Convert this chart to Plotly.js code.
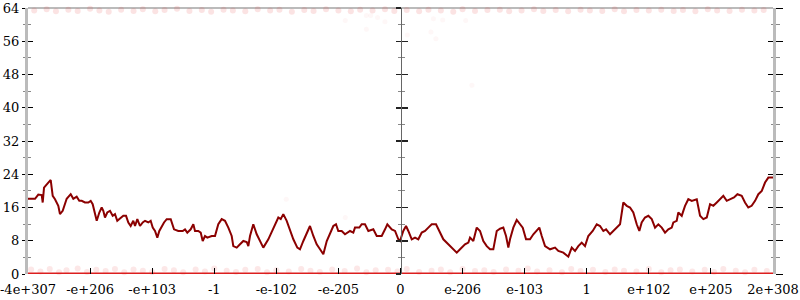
<!DOCTYPE html>
<html>
<head>
<meta charset="utf-8">
<script src="https://cdn.plot.ly/plotly-3.0.1.min.js"></script>
<style>html,body{margin:0;padding:0;background:#fff}#chart{width:800px;height:300px}</style>
</head>
<body>
<div id="chart"></div>
<script>
// Tick labels (symmetric-log style axis, evenly spaced positions 0..12)
const tickLabels = ["-4e+307","-e+206","-e+103","-1","-e-102","-e-205","0","e-206","e-103","1","e+102","e+205","2e+308"];
const tickPositions = [0,1,2,3,4,5,6,7,8,9,10,11,12];
const yTicks = [0,8,16,24,32,40,48,56,64];

// Main walk line (x in tick units, y values)
const walkX = [0,0.113,0.166,0.221,0.237,0.258,0.327,0.366,0.398,0.435,0.488,0.515,0.559,0.596,0.623,0.688,0.730,0.784,0.826,0.865,0.918,0.971,1.010,1.042,1.079,1.107,1.149,1.187,1.213,1.240,1.277,1.321,1.364,1.401,1.438,1.482,1.535,1.579,1.616,1.654,1.696,1.724,1.761,1.804,1.848,1.885,1.938,1.976,2.009,2.046,2.083,2.115,2.154,2.191,2.234,2.299,2.352,2.421,2.492,2.529,2.566,2.621,2.663,2.690,2.743,2.782,2.814,2.851,2.888,2.959,3.012,3.065,3.120,3.173,3.227,3.281,3.307,3.362,3.415,3.468,3.523,3.549,3.576,3.629,3.684,3.737,3.790,3.871,3.951,4.032,4.071,4.112,4.167,4.220,4.274,4.338,4.381,4.435,4.489,4.542,4.596,4.650,4.704,4.757,4.812,4.865,4.918,4.961,4.998,5.053,5.106,5.187,5.240,5.267,5.337,5.375,5.428,5.482,5.562,5.617,5.697,5.751,5.788,5.859,5.912,5.965,5.992,6.045,6.089,6.126,6.181,6.234,6.287,6.342,6.395,6.448,6.503,6.572,6.637,6.690,6.770,6.851,6.906,6.959,7.039,7.093,7.120,7.173,7.228,7.281,7.334,7.389,7.442,7.495,7.550,7.603,7.656,7.700,7.737,7.764,7.817,7.872,7.925,7.969,8.022,8.086,8.140,8.194,8.236,8.275,8.328,8.409,8.489,8.542,8.623,8.703,8.758,8.811,8.864,8.919,8.972,9.025,9.096,9.161,9.214,9.267,9.311,9.375,9.429,9.493,9.536,9.589,9.644,9.697,9.750,9.805,9.847,9.885,9.938,9.992,10.047,10.100,10.153,10.208,10.261,10.314,10.369,10.395,10.449,10.475,10.530,10.556,10.583,10.636,10.691,10.772,10.797,10.825,10.878,10.933,10.986,11.039,11.094,11.147,11.200,11.255,11.308,11.372,11.427,11.496,11.549,11.602,11.656,11.711,11.764,11.819,11.872,11.925,12.0];
const walkY = [18.1,18.1,19.1,19.0,17.2,20.8,22.0,22.6,18.8,18.0,16.4,14.4,15.2,17.2,18.1,19.2,18.1,18.6,17.6,17.6,17.2,17.2,17.6,16.8,14.0,12.8,14.8,16.0,15.2,13.6,14.8,15.2,14.0,14.4,12.8,13.3,14.0,14.0,12.4,11.55,12.8,11.55,13.2,11.55,12.4,12.8,12.4,12.8,11.16,10.35,8.75,10.35,11.55,12.4,13.2,13.2,10.75,10.35,10.35,10.75,9.96,10.75,11.96,10.35,10.35,9.96,7.94,9.15,8.75,9.15,9.15,11.96,13.2,12.8,11.16,9.15,6.7,6.35,7.15,7.94,7.7,6.7,9.15,11.96,9.55,7.94,6.35,8.35,11.16,13.6,13.2,14.4,12.8,10.35,8.35,6.35,5.94,7.94,9.96,11.55,9.15,7.15,5.94,4.74,7.94,9.96,11.55,11.96,10.35,10.35,9.55,10.35,9.96,11.16,11.16,11.96,11.96,10.35,10.75,9.15,9.15,10.75,11.96,10.75,10.35,8.35,7.94,10.35,11.55,10.35,8.35,8.75,8.35,9.96,10.35,11.16,11.96,11.96,9.96,8.35,7.15,5.94,5.14,5.94,7.15,7.55,8.75,7.94,11.16,10.35,7.94,6.7,5.94,5.94,10.35,10.9,11.16,9.15,6.35,8.35,11.16,13.0,11.96,11.16,8.35,8.35,9.55,10.35,11.16,9.15,6.7,5.94,6.35,5.54,5.14,4.17,6.35,5.54,6.7,7.55,6.7,9.15,10.35,11.96,11.55,10.35,10.75,9.55,10.35,11.16,11.96,17.2,16.4,16.0,14.8,11.96,10.35,12.4,13.6,14.0,13.2,11.16,11.96,11.16,9.96,10.75,11.16,12.4,12.8,14.8,14.0,15.2,16.4,18.0,17.6,18.0,15.6,14.0,13.2,13.6,16.8,16.4,17.2,18.0,18.8,17.6,18.0,18.4,19.2,18.8,17.2,16.0,16.4,17.6,19.2,20.0,22.0,23.2,23.2];

// Faint scattered points near the bottom (y ~ 0..1.3)
const lowX = [0.05,0.2,0.35,0.5,0.62,0.8,0.95,1.1,1.25,1.4,1.55,1.7,1.85,2.0,2.2,2.35,2.5,2.7,2.85,3.0,3.2,3.35,3.5,3.7,3.85,4.0,4.2,4.4,4.55,4.7,4.9,5.1,5.3,5.45,5.6,5.8,5.95,6.1,6.3,6.5,6.65,6.8,7.0,7.2,7.35,7.5,7.7,7.9,8.05,8.2,8.4,8.6,8.75,8.9,9.1,9.3,9.45,9.6,9.8,10.0,10.2,10.35,10.5,10.7,10.9,11.05,11.2,11.4,11.55,11.7,11.9];
const lowY = [1.1,0.6,1.2,0.4,0.9,1.3,0.5,1.0,0.7,1.2,0.4,1.1,0.8,0.5,1.2,0.9,0.4,1.1,0.6,1.3,0.8,0.5,1.0,1.2,0.4,0.9,0.6,1.2,0.8,0.5,1.1,0.7,1.3,0.4,0.9,1.0,0.6,1.2,0.5,0.8,1.1,0.4,1.2,0.7,0.9,0.5,1.1,0.8,1.3,0.6,0.9,0.4,1.2,0.7,1.0,0.5,1.1,0.8,0.6,1.2,0.4,0.9,1.1,0.6,1.0,0.5,1.2,0.8,0.4,1.0,0.7];
// Faint scattered points near the top (y ~ 62.8..64)
const highX = [0.1,0.3,0.45,0.65,0.8,1.0,1.15,1.3,1.5,1.7,1.85,2.05,2.2,2.4,2.6,2.8,2.95,3.15,3.3,3.5,3.7,3.9,4.05,4.25,4.45,4.6,4.8,5.0,5.2,5.35,5.55,5.75,5.9,6.1,6.3,6.45,6.65,6.85,7.0,7.2,7.4,7.6,7.75,7.95,8.15,8.3,8.5,8.7,8.9,9.05,9.25,9.45,9.6,9.8,10.0,10.2,10.4,10.55,10.75,10.95,11.1,11.3,11.5,11.7,11.85];
const highY = [63.4,63.7,63.2,63.6,63.3,63.8,63.4,63.1,63.6,63.3,63.7,63.2,63.5,63.8,63.3,63.5,63.1,63.6,63.4,63.2,63.7,63.4,63.6,63.1,63.5,63.3,63.7,63.4,63.2,63.6,63.4,63.7,63.3,63.5,63.2,63.6,63.4,63.1,63.7,63.3,63.5,63.6,63.2,63.4,63.7,63.3,63.5,63.2,63.6,63.4,63.3,63.7,63.2,63.5,63.4,63.6,63.3,63.5,63.2,63.7,63.4,63.3,63.6,63.4,63.5];
// A few stray points in the upper area
const strayX = [5.11,5.45,5.52,5.63,5.75,5.45,6.11,6.53,6.68,6.49,6.57,7.05,7.15,4.16,5.11];
const strayY = [61.0,62.2,62.2,61.7,60.7,58.9,57.5,61.4,61.1,58.2,56.6,61.0,45.4,18.0,13.6];

const serif = "DejaVu Serif";

const traces = [
  {x: lowX, y: lowY, mode: 'markers', type: 'scatter', hoverinfo: 'skip',
   marker: {color: 'rgb(230,60,60)', size: 6, opacity: 0.12}, cliponaxis: false, showlegend: false},
  {x: highX, y: highY, mode: 'markers', type: 'scatter', hoverinfo: 'skip',
   marker: {color: 'rgb(230,60,60)', size: 6, opacity: 0.14}, cliponaxis: false, showlegend: false},
  {x: strayX, y: strayY, mode: 'markers', type: 'scatter', hoverinfo: 'skip',
   marker: {color: 'rgb(240,120,120)', size: 5, opacity: 0.06}, showlegend: false},
  {x: [tickPositions[0], tickPositions[tickPositions.length-1]], y: [0, 0], mode: 'lines', type: 'scatter',
   line: {color: 'rgb(220,30,30)', width: 3}, cliponaxis: false, hoverinfo: 'skip', showlegend: false},
  {x: walkX, y: walkY, mode: 'lines', type: 'scatter',
   line: {color: '#8b0000', width: 2}, showlegend: false},
  // empty carriers so the overlaid tick axes get drawn
  {x: [], y: [], yaxis: 'y2', type: 'scatter', mode: 'lines', showlegend: false},
  {x: [], y: [], yaxis: 'y3', type: 'scatter', mode: 'lines', showlegend: false},
  {x: [], y: [], yaxis: 'y4', type: 'scatter', mode: 'lines', showlegend: false},
  {x: [], y: [], yaxis: 'y5', type: 'scatter', mode: 'lines', showlegend: false},
  {x: [], y: [], yaxis: 'y6', type: 'scatter', mode: 'lines', showlegend: false}
];

const yBase = {range: [0, 64], tickvals: yTicks, showgrid: false, zeroline: false, fixedrange: true};
const minorOut = (len) => ({dtick: 4, tick0: 0, ticks: 'outside', ticklen: len, tickcolor: '#888', tickwidth: 1});
const minorIn = (len) => ({dtick: 4, tick0: 0, ticks: 'inside', ticklen: len, tickcolor: '#888', tickwidth: 1});

const layout = {
  width: 800, height: 300,
  margin: {l: 28, r: 27, t: 8, b: 26},
  paper_bgcolor: '#fff', plot_bgcolor: '#fff',
  showlegend: false,
  font: {family: serif, size: 13, color: '#000'},
  xaxis: {range: [0, 12], tickvals: tickPositions, ticktext: tickLabels,
    ticks: 'inside', ticklen: 6, tickcolor: '#000', tickwidth: 1,
    showline: false, showgrid: false, zeroline: false, ticklabeloverflow: 'allow',
    ticklabelstandoff: 6,
    tickfont: {family: serif, size: 13, color: '#000'}, fixedrange: true},
  yaxis: Object.assign({}, yBase, {
    ticks: 'outside', ticklen: 3, tickcolor: '#000', tickwidth: 1,
    showline: true, linecolor: '#bbb', linewidth: 3,
    tickfont: {family: serif, size: 13, color: '#000'},
    minor: minorOut(2)}),
  yaxis2: Object.assign({}, yBase, {overlaying: 'y', side: 'left', anchor: 'x',
    ticks: 'inside', ticklen: 5, tickcolor: '#000', tickwidth: 1,
    showticklabels: false, showline: false, minor: minorIn(3)}),
  yaxis3: Object.assign({}, yBase, {overlaying: 'y', anchor: 'free', position: 0.5, side: 'left',
    ticks: 'outside', ticklen: 5, tickcolor: '#222', tickwidth: 1.5,
    showticklabels: false, showline: true, linecolor: '#666', linewidth: 1.5, minor: minorOut(3)}),
  yaxis4: Object.assign({}, yBase, {overlaying: 'y', anchor: 'free', position: 0.5, side: 'left',
    ticks: 'inside', ticklen: 6, tickcolor: '#222', tickwidth: 1.5,
    showticklabels: false, showline: false, minor: minorIn(3)}),
  yaxis5: Object.assign({}, yBase, {overlaying: 'y', side: 'right', anchor: 'x',
    ticks: 'outside', ticklen: 7, tickcolor: '#000', tickwidth: 1,
    showticklabels: false, showline: true, linecolor: '#bbb', linewidth: 3, minor: minorOut(4)}),
  yaxis6: Object.assign({}, yBase, {overlaying: 'y', side: 'right', anchor: 'x',
    ticks: 'inside', ticklen: 5, tickcolor: '#000', tickwidth: 1,
    showticklabels: false, showline: false, minor: minorIn(2)}),
  shapes: [
    {type: 'line', xref: 'paper', yref: 'paper', x0: 0, x1: 1, y0: 1, y1: 1,
     line: {color: '#bbb', width: 2}, layer: 'below'}
  ]
};

Plotly.newPlot('chart', traces, layout, {displayModeBar: false, staticPlot: true});
</script>
</body>
</html>
